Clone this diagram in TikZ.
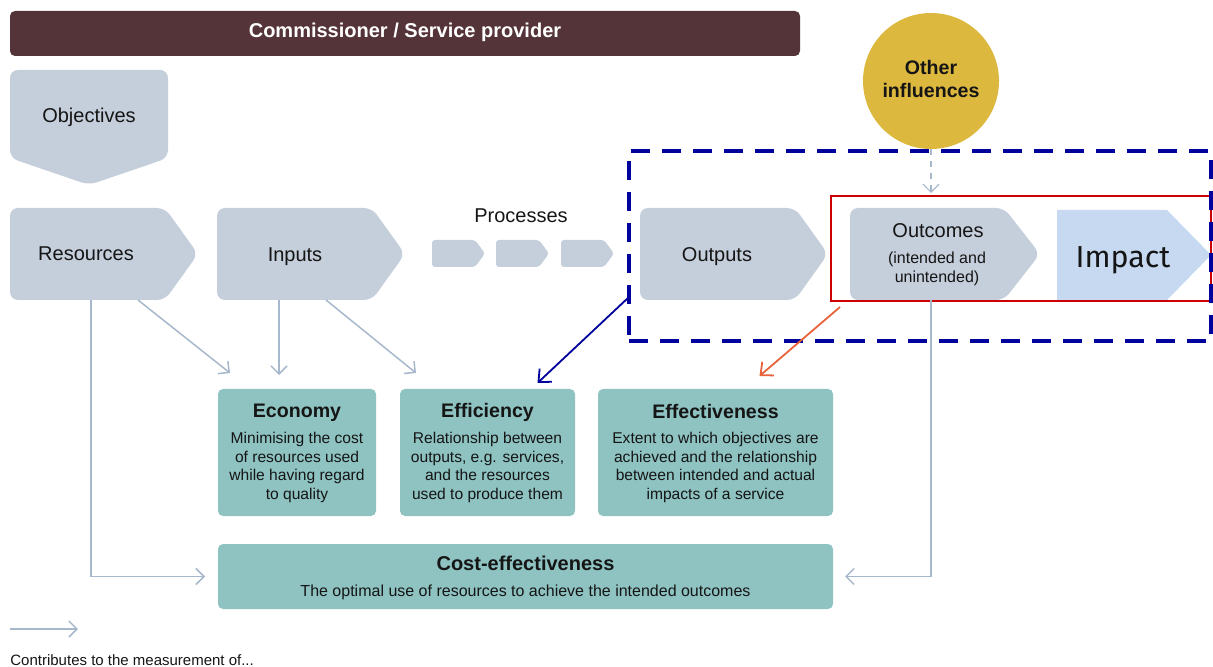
\documentclass[tikz,border=0pt]{standalone}
\usepackage{fontspec}
\setmainfont{Liberation Sans}
\newfontfamily\impfont{Fira Sans}
\usetikzlibrary{arrows.meta}
\definecolor{boxc}{HTML}{C5CEDB}
\definecolor{impc}{HTML}{C6D9F1}
\definecolor{tealc}{HTML}{8EC3C2}
\definecolor{maroonc}{HTML}{553439}
\definecolor{goldc}{HTML}{DDB83E}
\definecolor{connc}{HTML}{A8B8CC}
\definecolor{navyc}{HTML}{00009C}
\definecolor{redc}{HTML}{CC0000}
\definecolor{orangec}{HTML}{E8623A}
\definecolor{txtc}{HTML}{151515}
\tikzset{
  area/.style={inner sep=0pt,outer sep=0pt},
  lbl/.style={inner sep=0pt,text=txtc,font=\fontsize{10}{12}\selectfont},
  ttl/.style={inner sep=0pt,text=txtc,font=\fontsize{9.8}{12}\selectfont\bfseries},
  body/.style={inner sep=0pt,text=txtc,align=center,font=\fontsize{7.8}{9.25}\selectfont},
  tealbox/.style={area,fill=tealc,rounded corners=2.5pt},
  conn/.style={draw=connc,line width=0.75pt,-{Straight Barb[length=4pt,width=8pt]}},
  bluearrow/.style={draw=navyc,line width=0.9pt,-{Straight Barb[length=5pt,width=9pt]}},
  orarrow/.style={draw=orangec,line width=0.9pt,-{Straight Barb[length=5pt,width=9pt]}},
}
\begin{document}
\begin{tikzpicture}[x=0.5pt,y=-0.5pt]
\useasboundingbox (0,0) rectangle (1213,667);

% top bar
\node[area,fill=maroonc,rounded corners=2.5pt,minimum width=395pt,minimum height=22.5pt] (bar) at (405,33.5) {};
\node[ttl,text=white,font=\fontsize{10}{12}\selectfont\bfseries] (bartxt) at (405,32.5) {Commissioner / Service provider};

% objectives
\fill[boxc,rounded corners=4pt] (10,70) -- (168,70) -- (168,158) -- (89,185) -- (10,158) -- cycle;
\node[lbl] (obj) at (89,117) {Objectives};

% big chevrons
\node[area,minimum width=94pt,minimum height=46pt] (res) at (104,254) {};
\fill[boxc,rounded corners=4pt] (res.south west) -- (res.north west) -- ([xshift=-16.5pt]res.north east) -- (res.east) -- ([xshift=-16.5pt]res.south east) -- cycle;
\node[lbl] (restxt) at (86,254) {Resources};

\node[area,minimum width=94pt,minimum height=46pt] (inp) at (311,254) {};
\fill[boxc,rounded corners=4pt] (inp.south west) -- (inp.north west) -- ([xshift=-16.5pt]inp.north east) -- (inp.east) -- ([xshift=-16.5pt]inp.south east) -- cycle;
\node[lbl] (inptxt) at (295,256.5) {Inputs};

\node[lbl] (proc) at (521,216) {Processes};
\foreach \cx/\nm in {458.5/p1,522.5/p2,587.5/p3}{
  \node[area,minimum width=26.5pt,minimum height=13.5pt] (\nm) at (\cx,253.5) {};
  \fill[boxc,rounded corners=1.5pt] (\nm.south west) -- (\nm.north west) -- ([xshift=-5pt]\nm.north east) -- (\nm.east) -- ([xshift=-5pt]\nm.south east) -- cycle;
}

\node[area,minimum width=94pt,minimum height=46pt] (out) at (734,254) {};
\fill[boxc,rounded corners=4pt] (out.south west) -- (out.north west) -- ([xshift=-16.5pt]out.north east) -- (out.east) -- ([xshift=-16.5pt]out.south east) -- cycle;
\node[lbl] (outtxt) at (717,256.5) {Outputs};

\node[area,minimum width=95pt,minimum height=46pt] (ocm) at (945,254) {};
\fill[boxc,rounded corners=4pt] (ocm.south west) -- (ocm.north west) -- ([xshift=-18pt]ocm.north east) -- (ocm.east) -- ([xshift=-18pt]ocm.south east) -- cycle;
\node[lbl] (ocmtxt) at (938,231) {Outcomes};
\node[body,font=\fontsize{8}{9.5}\selectfont] (ocmsub) at (937,269) {(intended and\\ unintended)};

\node[area,minimum width=77pt,minimum height=45pt] (imp) at (1134,255) {};
\fill[impc] (imp.south west) -- (imp.north west) -- ([xshift=-22pt]imp.north east) -- (imp.east) -- ([xshift=-22pt]imp.south east) -- cycle;
\node[inner sep=0pt,text=txtc,font=\impfont\fontsize{15.2}{17}\selectfont] (imptxt) at (1123,260) {Impact};

% other influences
\node[area,circle,fill=goldc,minimum size=68pt] (circ) at (931,81) {};
\node[ttl,align=center,font=\fontsize{9.8}{11.5}\selectfont\bfseries] (circtxt) at (931,79) {Other\\influences};

% highlight frames
\node[area,draw=redc,line width=1.1pt,minimum width=190pt,minimum height=52.5pt] (red) at (1021,248.5) {};
\node[area,draw=navyc,line width=2pt,dash pattern=on 9.5pt off 6pt,minimum width=291pt,minimum height=95pt] (blue) at (920,246) {};

% teal boxes
\node[tealbox,minimum width=79pt,minimum height=63.5pt] (eco) at (297,452.5) {};
\node[ttl] (ecot) at (297,413) {Economy};
\node[body] (ecob) at (297,467.5) {Minimising the cost\\of resources used\\while having regard\\to quality};

\node[tealbox,minimum width=87.5pt,minimum height=63.5pt] (eff) at (487.5,452.5) {};
\node[ttl] (efft) at (487.5,412.5) {Efficiency};
\node[body] (effb) at (487.5,467.5) {Relationship between\\outputs, e.g. services,\\and the resources\\used to produce them};

\node[tealbox,minimum width=117.5pt,minimum height=63.5pt] (efv) at (715.5,452.5) {};
\node[ttl] (efvt) at (715.5,411) {Effectiveness};
\node[body] (efvb) at (715.5,467.5) {Extent to which objectives are\\achieved and the relationship\\between intended and actual\\impacts of a service};

\node[tealbox,minimum width=307.5pt,minimum height=32.5pt] (cost) at (525.5,576.5) {};
\node[ttl,font=\fontsize{10}{12}\selectfont\bfseries] (costt) at (525.5,563) {Cost-effectiveness};
\node[body,font=\fontsize{8}{9.5}\selectfont] (costb) at (525.5,592) {The optimal use of resources to achieve the intended outcomes};

% connectors
\draw[conn,shorten >=6.5pt] ([xshift=-6.5pt]res.south) |- (cost.west);
\draw[conn] ([xshift=17pt]res.south) -- ([xshift=6pt,yshift=8pt]eco.north west);
\draw[conn] ([xshift=-16pt]inp.south) -- ([xshift=-9pt,yshift=7pt]eco.north);
\draw[conn] ([xshift=7.5pt]inp.south) -- ([xshift=8pt,yshift=8pt]eff.north west);
\draw[conn,shorten >=6pt] ([xshift=-7pt]ocm.south) |- (cost.east);
\draw[conn,dashed,line width=0.6pt] (circ.south) -- ([yshift=1.5pt]circ.south |- red.north);
\draw[bluearrow] ([yshift=-25.5pt]blue.west) -- ([xshift=25pt,yshift=3pt]eff.north);
\draw[orarrow] ([xshift=4.5pt,yshift=-3pt]red.south west) -- ([xshift=22pt,yshift=6.5pt]efv.north);

% legend
\coordinate (lg1) at (10,629);
\coordinate (lg2) at (78,629);
\draw[conn] (lg1) -- (lg2);
\node[inner sep=0pt,anchor=west,text=txtc,font=\fontsize{7.5}{9}\selectfont] (lgt) at (10,660) {Contributes to the measurement of...};
\end{tikzpicture}
\end{document}
